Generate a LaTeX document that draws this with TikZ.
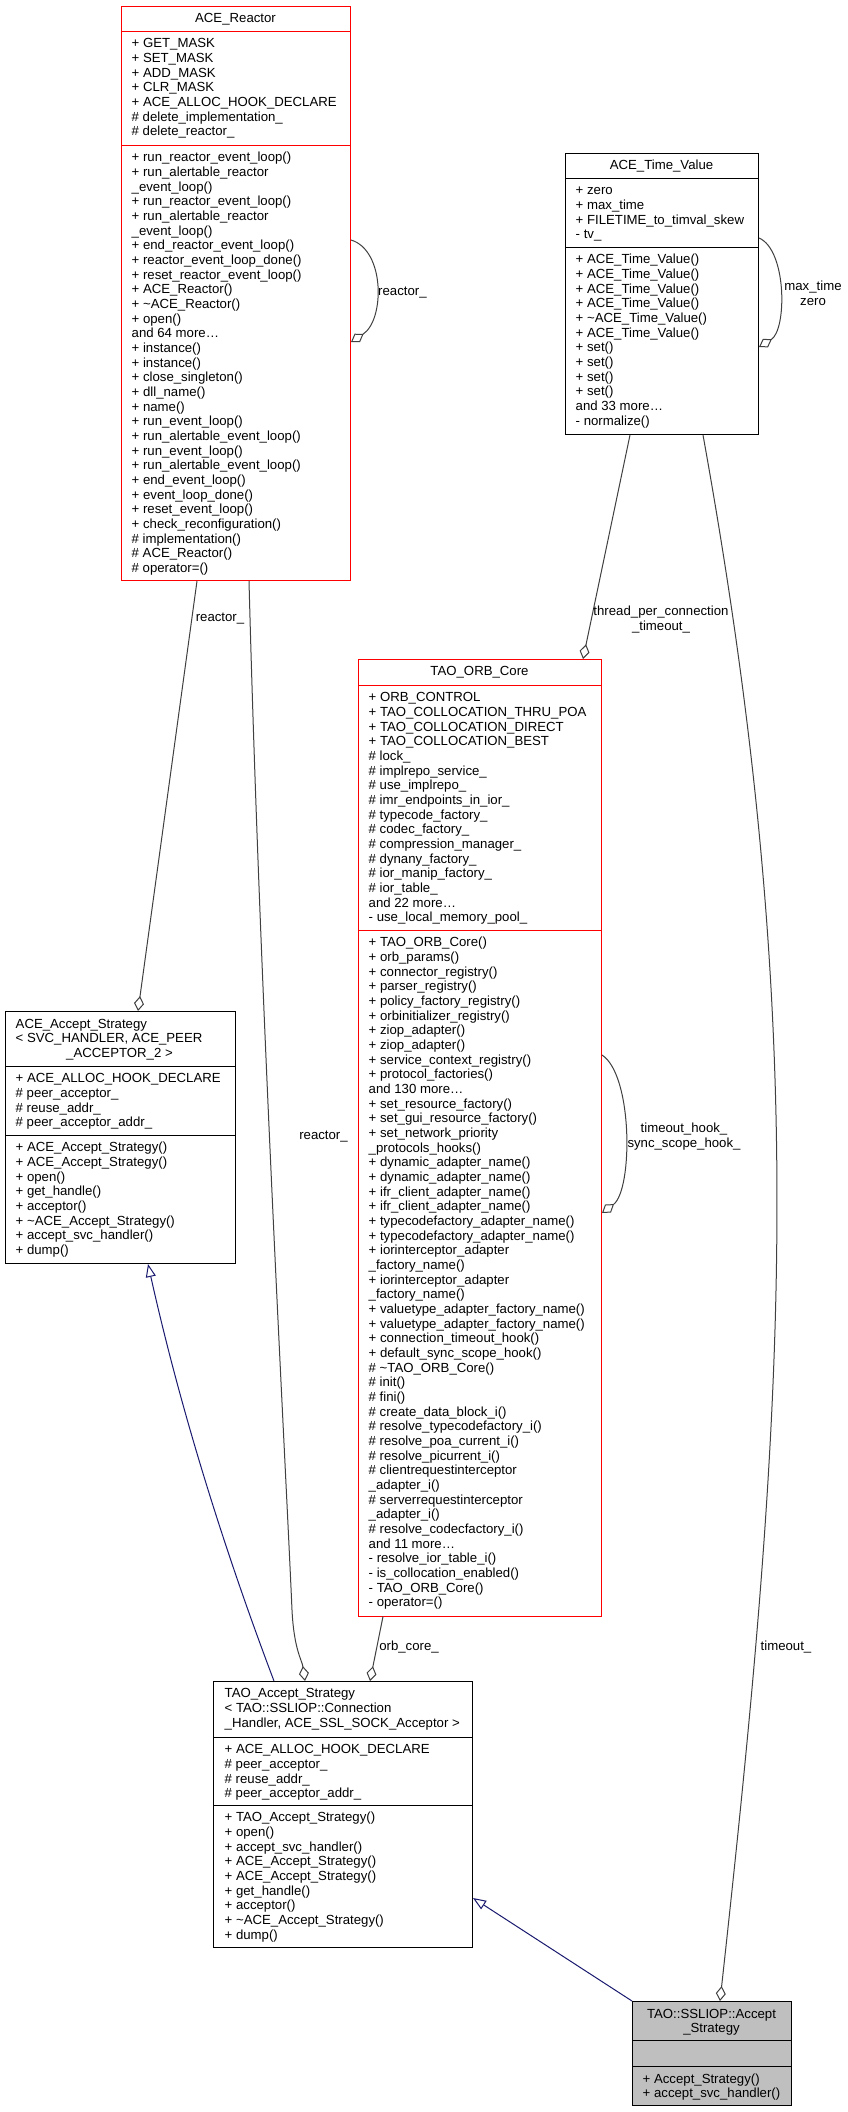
\documentclass[tikz,border=0pt]{standalone}
\usepackage{fontspec}
\setmainfont{Liberation Sans}
\usetikzlibrary{arrows.meta}
\definecolor{edgegray}{HTML}{404040}
\definecolor{inhblue}{HTML}{191970}
\definecolor{boxred}{HTML}{FF0000}
\definecolor{selfill}{HTML}{BFBFBF}
\def\su{10.27}
\tikzset{
  classbox/.style={draw, line width=1pt, inner sep=0pt, anchor=north west},
  redbox/.style={classbox, draw=boxred},
  blackbox/.style={classbox, draw=black},
  sepred/.style={draw=boxred, line width=1pt},
  sepblack/.style={draw=black, line width=1pt},
  txt/.style={inner sep=0pt, anchor=north west, align=left, font=\fontsize{13.2}{14.67}\selectfont},
  ctxt/.style={inner sep=0pt, anchor=north, align=center, font=\fontsize{13.2}{14.67}\selectfont},
  lbl/.style={inner sep=0pt, align=center, font=\fontsize{13.2}{14.67}\selectfont},
  agg/.style={draw=edgegray, line width=1pt, -{Diamond[fill=white, length=15pt, width=10pt]}},
  inh/.style={draw=inhblue, line width=1pt, -{Triangle[fill=white, length=13pt, width=10pt]}}
}
\begin{document}
\begin{tikzpicture}[x=1pt, y=-1pt]
\path[use as bounding box, fill=white] (0,0) rectangle (848,2112);

% ---------------- ACE_Reactor ----------------
\node[redbox, minimum width=229pt, minimum height=574pt] (reactor) at (121,6) {};
\draw[sepred] (121,31) -- (350,31);
\draw[sepred] (121,145) -- (350,145);
\node[ctxt] (reactor-title) at (235.5,22-\su) {\strut ACE\_Reactor};
\node[txt] (reactor-attr) at (131.5,47.5-\su) {\strut + GET\_MASK\\
+ SET\_MASK\\
+ ADD\_MASK\\
+ CLR\_MASK\\
+ ACE\_ALLOC\_HOOK\_DECLARE\\
\# delete\_implementation\_\\
\# delete\_reactor\_};
\node[txt] (reactor-meth) at (131.5,161.5-\su) {\strut + run\_reactor\_event\_loop()\\
+ run\_alertable\_reactor\\
\_event\_loop()\\
+ run\_reactor\_event\_loop()\\
+ run\_alertable\_reactor\\
\_event\_loop()\\
+ end\_reactor\_event\_loop()\\
+ reactor\_event\_loop\_done()\\
+ reset\_reactor\_event\_loop()\\
+ ACE\_Reactor()\\
+ \textasciitilde ACE\_Reactor()\\
+ open()\\
and 64 more…\\
+ instance()\\
+ instance()\\
+ close\_singleton()\\
+ dll\_name()\\
+ name()\\
+ run\_event\_loop()\\
+ run\_alertable\_event\_loop()\\
+ run\_event\_loop()\\
+ run\_alertable\_event\_loop()\\
+ end\_event\_loop()\\
+ event\_loop\_done()\\
+ reset\_event\_loop()\\
+ check\_reconfiguration()\\
\# implementation()\\
\# ACE\_Reactor()\\
\# operator=()};

% ---------------- ACE_Time_Value ----------------
\node[blackbox, minimum width=193pt, minimum height=281pt] (tv) at (565,153) {};
\draw[sepblack] (565,178) -- (758,178);
\draw[sepblack] (565,247) -- (758,247);
\node[ctxt] (tv-title) at (661.5,169.5-\su) {\strut ACE\_Time\_Value};
\node[txt] (tv-attr) at (575.5,194.5-\su) {\strut + zero\\
+ max\_time\\
+ FILETIME\_to\_timval\_skew\\
- tv\_};
\node[txt] (tv-meth) at (575.5,263.5-\su) {\strut + ACE\_Time\_Value()\\
+ ACE\_Time\_Value()\\
+ ACE\_Time\_Value()\\
+ ACE\_Time\_Value()\\
+ \textasciitilde ACE\_Time\_Value()\\
+ ACE\_Time\_Value()\\
+ set()\\
+ set()\\
+ set()\\
+ set()\\
and 33 more…\\
- normalize()};

% ---------------- TAO_ORB_Core ----------------
\node[redbox, minimum width=243pt, minimum height=956.5pt] (orb) at (358,659) {};
\draw[sepred] (358,685) -- (601,685);
\draw[sepred] (358,930) -- (601,930);
\node[ctxt] (orb-title) at (479.5,675-\su) {\strut TAO\_ORB\_Core};
\node[txt] (orb-attr) at (368.5,701.5-\su) {\strut + ORB\_CONTROL\\
+ TAO\_COLLOCATION\_THRU\_POA\\
+ TAO\_COLLOCATION\_DIRECT\\
+ TAO\_COLLOCATION\_BEST\\
\# lock\_\\
\# implrepo\_service\_\\
\# use\_implrepo\_\\
\# imr\_endpoints\_in\_ior\_\\
\# typecode\_factory\_\\
\# codec\_factory\_\\
\# compression\_manager\_\\
\# dynany\_factory\_\\
\# ior\_manip\_factory\_\\
\# ior\_table\_\\
and 22 more…\\
- use\_local\_memory\_pool\_};
\node[txt] (orb-meth) at (368.5,946.5-\su) {\strut + TAO\_ORB\_Core()\\
+ orb\_params()\\
+ connector\_registry()\\
+ parser\_registry()\\
+ policy\_factory\_registry()\\
+ orbinitializer\_registry()\\
+ ziop\_adapter()\\
+ ziop\_adapter()\\
+ service\_context\_registry()\\
+ protocol\_factories()\\
and 130 more…\\
+ set\_resource\_factory()\\
+ set\_gui\_resource\_factory()\\
+ set\_network\_priority\\
\_protocols\_hooks()\\
+ dynamic\_adapter\_name()\\
+ dynamic\_adapter\_name()\\
+ ifr\_client\_adapter\_name()\\
+ ifr\_client\_adapter\_name()\\
+ typecodefactory\_adapter\_name()\\
+ typecodefactory\_adapter\_name()\\
+ iorinterceptor\_adapter\\
\_factory\_name()\\
+ iorinterceptor\_adapter\\
\_factory\_name()\\
+ valuetype\_adapter\_factory\_name()\\
+ valuetype\_adapter\_factory\_name()\\
+ connection\_timeout\_hook()\\
+ default\_sync\_scope\_hook()\\
\# \textasciitilde TAO\_ORB\_Core()\\
\# init()\\
\# fini()\\
\# create\_data\_block\_i()\\
\# resolve\_typecodefactory\_i()\\
\# resolve\_poa\_current\_i()\\
\# resolve\_picurrent\_i()\\
\# clientrequestinterceptor\\
\_adapter\_i()\\
\# serverrequestinterceptor\\
\_adapter\_i()\\
\# resolve\_codecfactory\_i()\\
and 11 more…\\
- resolve\_ior\_table\_i()\\
- is\_collocation\_enabled()\\
- TAO\_ORB\_Core()\\
- operator=()};

% ---------------- ACE_Accept_Strategy ----------------
\node[blackbox, minimum width=230pt, minimum height=252pt] (aas) at (5,1011) {};
\draw[sepblack] (5,1066) -- (235,1066);
\draw[sepblack] (5,1135) -- (235,1135);
\node[txt] (aas-title) at (15.5,1028-\su) {\strut ACE\_Accept\_Strategy\\
< SVC\_HANDLER, ACE\_PEER};
\node[ctxt] (aas-title2) at (119.5,1057.3-\su) {\strut \_ACCEPTOR\_2 >};
\node[txt] (aas-attr) at (15.5,1082.5-\su) {\strut + ACE\_ALLOC\_HOOK\_DECLARE\\
\# peer\_acceptor\_\\
\# reuse\_addr\_\\
\# peer\_acceptor\_addr\_};
\node[txt] (aas-meth) at (15.5,1151.5-\su) {\strut + ACE\_Accept\_Strategy()\\
+ ACE\_Accept\_Strategy()\\
+ open()\\
+ get\_handle()\\
+ acceptor()\\
+ \textasciitilde ACE\_Accept\_Strategy()\\
+ accept\_svc\_handler()\\
+ dump()};

% ---------------- TAO_Accept_Strategy ----------------
\node[blackbox, minimum width=259pt, minimum height=266pt] (tas) at (213,1681) {};
\draw[sepblack] (213,1737) -- (472,1737);
\draw[sepblack] (213,1805) -- (472,1805);
\node[txt] (tas-title) at (224.5,1697.5-\su) {\strut TAO\_Accept\_Strategy\\
< TAO::SSLIOP::Connection\\
\_Handler, ACE\_SSL\_SOCK\_Acceptor >};
\node[txt] (tas-attr) at (224.5,1753.5-\su) {\strut + ACE\_ALLOC\_HOOK\_DECLARE\\
\# peer\_acceptor\_\\
\# reuse\_addr\_\\
\# peer\_acceptor\_addr\_};
\node[txt] (tas-meth) at (224.5,1821.5-\su) {\strut + TAO\_Accept\_Strategy()\\
+ open()\\
+ accept\_svc\_handler()\\
+ ACE\_Accept\_Strategy()\\
+ ACE\_Accept\_Strategy()\\
+ get\_handle()\\
+ acceptor()\\
+ \textasciitilde ACE\_Accept\_Strategy()\\
+ dump()};

% ---------------- TAO::SSLIOP::Accept_Strategy ----------------
\node[blackbox, fill=selfill, minimum width=159pt, minimum height=104pt] (ssl) at (632,2001) {};
\draw[sepblack] (632,2040) -- (791,2040);
\draw[sepblack] (632,2066) -- (791,2066);
\node[ctxt] (ssl-title) at (711.5,2018-\su) {\strut TAO::SSLIOP::Accept\\
\_Strategy};
\node[txt] (ssl-meth) at (642.5,2083-\su) {\strut + Accept\_Strategy()\\
+ accept\_svc\_handler()};

% ---------------- connectors ----------------
\draw[agg] (reactor.east |- 0,240) .. controls (385,250) and (385,320) .. (reactor.east |- 0,342);
\node[lbl, anchor=west] (l-reactor-self) at (378,293) {reactor\_};

\draw[agg] (tv.east |- 0,238) .. controls (787,250) and (787,330) .. (tv.east |- 0,347);
\node[lbl] (l-tv-self) at (813,293) {max\_time\\zero};

\draw[agg] (reactor.south -| 197,0) -- (aas.north -| 138,0);
\node[lbl] (l-reactor-aas) at (220,619) {reactor\_};

\draw[agg] (reactor.south -| 249,0) .. controls (260,1000) and (285,1450) .. (292,1610)
  .. controls (294,1650) and (302,1660) .. (tas.north -| 305,0);
\node[lbl] (l-reactor-tas) at (323.5,1137) {reactor\_};

\draw[agg] (tv.south -| 630,0) -- (orb.north -| 583,0);
\node[lbl] (l-tpct) at (661,619.5) {thread\_per\_connection\\\_timeout\_};

\draw[agg] (orb.east |- 0,1055) .. controls (633,1075) and (633,1190) .. (orb.east |- 0,1213);
\node[lbl] (l-orb-self) at (684,1136.5) {timeout\_hook\_\\sync\_scope\_hook\_};

\draw[agg] (orb.south -| 383,0) -- (tas.north -| 370,0);
\node[lbl] (l-orbcore) at (409,1647) {orb\_core\_};

\draw[agg] (tv.south -| 703,0) .. controls (811,1034) and (786,1400) .. (ssl.north -| 720,0);
\node[lbl] (l-timeout) at (786,1647) {timeout\_};

\draw[inh] (tas.north -| 274,0) .. controls (221,1541) and (179,1403) .. (aas.south -| 148,0);
\draw[inh] (ssl.north west) -- (tas.east |- 0,1898);
\end{tikzpicture}
\end{document}
